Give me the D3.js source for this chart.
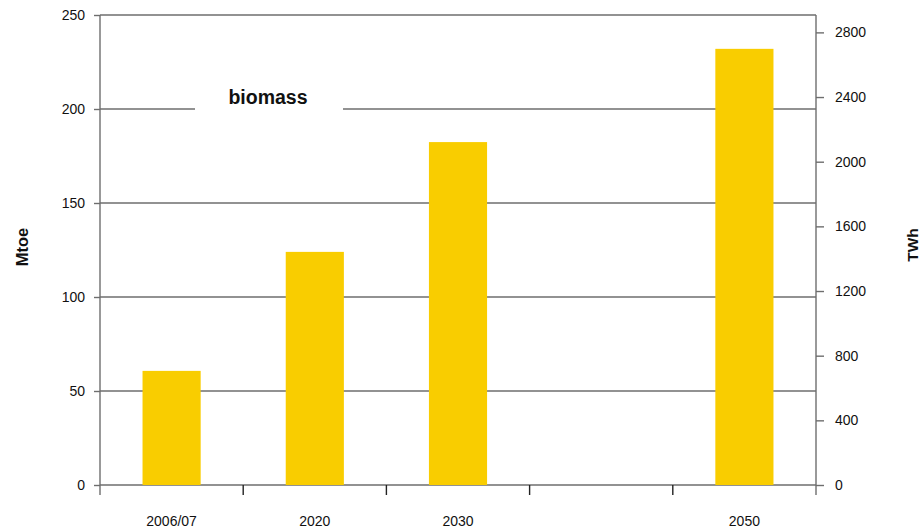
<!DOCTYPE html>
<html><head><meta charset="utf-8">
<script src="https://cdn.jsdelivr.net/npm/d3@7"></script>
<style>body{margin:0;background:#fff;} text{font-family:"Liberation Sans",Arial,sans-serif;}</style>
</head><body>
<svg id="c" width="923" height="528"></svg>
<script>
const categories = ["2006/07", "2020", "2030", "", "2050"];
const values = [60.7, 124, 182.4, null, 232];
const leftTicks = [0, 50, 100, 150, 200, 250];
const rightTicks = [0, 400, 800, 1200, 1600, 2000, 2400, 2800];
const TWH_PER_MTOE = 11.63;

const svg = d3.select("#c");
const L = 100, R = 816, T = 15, B = 485;
const gridColor = "#6e6e6e";
const FF = '"Liberation Sans",Arial,sans-serif';

const x = d3.scaleBand().domain(categories.map((c,i)=>i)).range([L, R]).paddingInner(0.594).paddingOuter(0.297);
const y = d3.scaleLinear().domain([0, 250]).range([B, T]);
const y2 = d3.scaleLinear().domain([0, 250 * TWH_PER_MTOE]).range([B, T]);

// gridlines
svg.append("g").selectAll("line").data(leftTicks).join("line")
  .attr("x1", L).attr("x2", R).attr("y1", d=>y(d)).attr("y2", d=>y(d))
  .attr("stroke", gridColor).attr("stroke-width", 1.4);

// title with white box
svg.append("rect").attr("x", 195).attr("y", 90).attr("width", 148).attr("height", 28).attr("fill", "#fff");
svg.append("text").attr("x", 268).attr("y", 104).attr("text-anchor", "middle")
  .attr("font-size", 19.5).attr("font-weight", "bold").attr("fill", "#111").text("biomass");

// bars
svg.append("g").selectAll("rect").data(values.map((v,i)=>({v,i})).filter(d=>d.v!=null)).join("rect")
  .attr("x", d=>x(d.i)).attr("width", x.bandwidth())
  .attr("y", d=>y(d.v)).attr("height", d=>y(0)-y(d.v))
  .attr("fill", "#F9CD00");

// left axis
const ga = svg.append("g").attr("transform", `translate(${L},0)`)
  .call(d3.axisLeft(y).tickValues(leftTicks).tickSize(6).tickPadding(9));
ga.select(".domain").remove();
ga.selectAll("line").attr("stroke", gridColor).attr("stroke-width", 1.4);
ga.selectAll("text").attr("font-size", 14).attr("fill", "#111").style("font-family", FF);
svg.append("line").attr("x1", L).attr("x2", L).attr("y1", T).attr("y2", B + 10).attr("stroke", gridColor).attr("stroke-width", 1.4);

// right axis
const gr = svg.append("g").attr("transform", `translate(${R},0)`)
  .call(d3.axisRight(y2).tickValues(rightTicks).tickSize(8).tickPadding(11).tickFormat(d3.format("d")));
gr.select(".domain").remove();
gr.selectAll("line").attr("stroke", gridColor).attr("stroke-width", 1.4);
gr.selectAll("text").attr("font-size", 14).attr("fill", "#111").style("font-family", FF);
svg.append("line").attr("x1", R).attr("x2", R).attr("y1", T).attr("y2", B + 10).attr("stroke", gridColor).attr("stroke-width", 1.4);

// x axis ticks at category boundaries
const bounds = categories.map((c,i)=>x(i) - x.step()*x.paddingInner()/2).slice(1);
svg.append("g").selectAll("line").data(bounds).join("line")
  .attr("x1", d=>d).attr("x2", d=>d).attr("y1", B).attr("y2", B + 10)
  .attr("stroke", "#222").attr("stroke-width", 1.4);
svg.append("g").selectAll("text").data(categories).join("text")
  .attr("x", (d,i)=>x(i) + x.bandwidth()/2).attr("y", 526)
  .attr("text-anchor", "middle").attr("font-size", 14).attr("fill", "#111").text(d=>d);

// axis titles
svg.append("text").attr("transform", "translate(28,247) rotate(-90)").attr("text-anchor", "middle")
  .attr("font-size", 16.5).attr("font-weight", "bold").attr("fill", "#111").text("Mtoe");
svg.append("text").attr("transform", "translate(918,245) rotate(-90)").attr("text-anchor", "middle")
  .attr("font-size", 15.5).attr("font-weight", "bold").attr("fill", "#111").text("TWh");
</script>
</body></html>
